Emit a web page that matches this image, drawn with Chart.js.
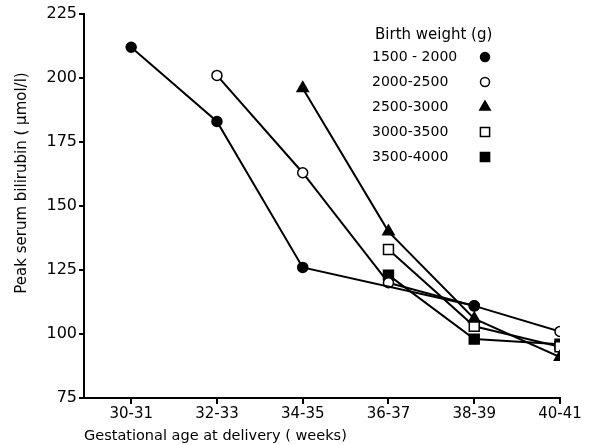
<!DOCTYPE html>
<html>
<head>
<meta charset="utf-8">
<script src="https://cdn.jsdelivr.net/npm/chart.js@4/dist/chart.umd.min.js"></script>
<style>
  html, body { margin: 0; padding: 0; background: #ffffff; }
  #wrap { width: 597px; height: 445px; position: relative; }
</style>
</head>
<body>
<div id="wrap"><canvas id="bilirubin-chart"></canvas></div>
<script>
const ageGroups = ["30-31", "32-33", "34-35", "36-37", "38-39", "40-41"];
const weightGroups = ["1500 - 2000", "2000-2500", "2500-3000", "3000-3500", "3500-4000"];

// peak serum bilirubin (umol/l) by gestational age group, one list per birth weight group
const bw1500 = [212, 183, 126, null, 111, null];
const bw2000 = [null, 201, 163, 120, 111, 101];
const bw2500 = [null, null, 196, 140, 106, 91];
const bw3000 = [null, null, null, 133, 103, 95];
const bw3500 = [null, null, null, 123, 98, 96];

const yTicks = [75, 100, 125, 150, 175, 200, 225];

const FONT = "'DejaVu Sans', sans-serif";

const MARKERS = [
  { pointStyle: "circle", radius: 5, fill: "#000000" },
  { pointStyle: "circle", radius: 5, fill: "#ffffff" },
  { pointStyle: "triangle", radius: 6.5, fill: "#000000" },
  { pointStyle: "rect", radius: 7, fill: "#ffffff" },
  { pointStyle: "rect", radius: 7, fill: "#000000" },
];

const toPoints = (values) =>
  values
    .map((v, i) => (v === null ? null : { x: i, y: v }))
    .filter((p) => p !== null);

const seriesValues = [bw1500, bw2000, bw2500, bw3000, bw3500];

const datasets = seriesValues.map((values, i) => ({
  label: weightGroups[i],
  data: toPoints(values),
  borderColor: "#000000",
  borderWidth: 2,
  pointStyle: MARKERS[i].pointStyle,
  pointRadius: MARKERS[i].radius,
  pointBackgroundColor: MARKERS[i].fill,
  pointBorderColor: "#000000",
  pointBorderWidth: 1.5,
  fill: false,
  tension: 0,
}));

// Draw the in-plot legend and the y title by hand, like the printed figure
const figureText = {
  id: "figureText",
  afterDraw(chart) {
    const ctx = chart.ctx;
    ctx.save();
    ctx.fillStyle = "#000000";
    ctx.textBaseline = "middle";

    // y axis title, sits a bit above the middle of the axis
    ctx.save();
    ctx.translate(22, 183);
    ctx.rotate(-Math.PI / 2);
    ctx.textAlign = "center";
    ctx.font = "15px " + FONT;
    ctx.fillText("Peak serum bilirubin ( \u00b5mol/l)", 0, 0);
    ctx.restore();

    ctx.textAlign = "left";
    ctx.font = "15px " + FONT;
    ctx.fillText("Birth weight (g)", 375, 35);

    ctx.font = "14px " + FONT;
    chart.data.datasets.forEach((ds, i) => {
      const y = 57 + i * 25;
      ctx.fillStyle = "#000000";
      ctx.fillText(ds.label, 372, y);
      ctx.fillStyle = MARKERS[i].fill;
      ctx.strokeStyle = "#000000";
      ctx.lineWidth = 1.5;
      Chart.helpers.drawPoint(
        ctx,
        {
          pointStyle: MARKERS[i].pointStyle,
          radius: MARKERS[i].radius - 0.5,
          rotation: 0,
          borderWidth: 1.5,
        },
        485,
        y
      );
    });
    ctx.restore();
  },
};

const config = {
  type: "line",
  data: { datasets: datasets },
  options: {
    responsive: true,
    maintainAspectRatio: false,
    animation: false,
    layout: { padding: { top: 14, right: 37, left: 0, bottom: 0 } },
    plugins: {
      legend: { display: false },
      tooltip: { enabled: false },
    },
    scales: {
      x: {
        type: "linear",
        min: -0.55,
        max: 5,
        afterFit: (scale) => {
          scale.height = 47;
        },
        afterBuildTicks: (scale) => {
          scale.ticks = ageGroups.map((_, i) => ({ value: i }));
        },
        ticks: {
          color: "#000000",
          font: { family: FONT, size: 15 },
          padding: 1,
          maxRotation: 0,
          callback: (value) => ageGroups[value] ?? "",
        },
        grid: {
          drawOnChartArea: false,
          drawTicks: true,
          tickLength: 6,
          color: "#000000",
          lineWidth: 2,
        },
        border: { display: true, color: "#000000", width: 2 },
        title: {
          display: true,
          text: "Gestational age at delivery ( weeks)",
          align: "start",
          color: "#000000",
          font: { family: FONT, size: 14.5 },
          padding: { top: 0, bottom: 0 },
        },
      },
      y: {
        min: 75,
        max: 225,
        afterFit: (scale) => {
          scale.width = 84;
        },
        afterBuildTicks: (scale) => {
          scale.ticks = yTicks.map((v) => ({ value: v }));
        },
        ticks: {
          color: "#000000",
          font: { family: FONT, size: 16 },
          padding: 2,
        },
        grid: {
          drawOnChartArea: false,
          drawTicks: true,
          tickLength: 5,
          color: "#000000",
          lineWidth: 2,
        },
        border: { display: true, color: "#000000", width: 2 },
        title: { display: false },
      },
    },
  },
  plugins: [figureText],
};

new Chart(document.getElementById("bilirubin-chart"), config);
</script>
</body>
</html>
